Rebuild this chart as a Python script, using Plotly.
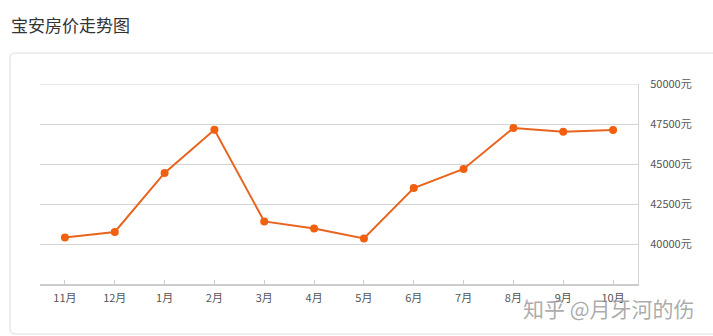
import plotly.graph_objects as go

months = ["11月", "12月", "1月", "2月", "3月", "4月", "5月", "6月", "7月", "8月", "9月", "10月"]
prices = [40400, 40750, 44440, 47140, 41410, 40970, 40350, 43500, 44690, 47250, 47020, 47120]
y_ticks = [40000, 42500, 45000, 47500, 50000]
y_tick_text = [f"{v}元" for v in y_ticks]

W, H = 713, 336
FONT = "Noto Sans CJK SC, Noto Sans, sans-serif"

def px(x):
    return x / W

def py(y):
    return 1 - y / H

fig = go.Figure()
fig.add_trace(go.Scatter(
    x=months, y=prices, mode="lines+markers",
    line=dict(color="#E8641E", width=2),
    marker=dict(color="#F0600F", size=8),
    hoverinfo="x+y", showlegend=False,
))

# card outline with rounded corners (pixel coords -> paper)
r = 5
x0, y0, x1, y1 = 10, 53, 720, 334
path = (f"M {px(x0 + r)},{py(y0)} L {px(x1)},{py(y0)} "
        f"M {px(x1)},{py(y1)} L {px(x0 + r)},{py(y1)} "
        f"Q {px(x0)},{py(y1)} {px(x0)},{py(y1 - r)} "
        f"L {px(x0)},{py(y0 + r)} Q {px(x0)},{py(y0)} {px(x0 + r)},{py(y0)}")

shapes = [
    dict(type="path", path=path, xref="paper", yref="paper",
         line=dict(color="#DDDDDD", width=1), layer="below"),
    # top gridline (plotly hides gridlines on the plot edge)
    dict(type="line", xref="x domain", yref="y", x0=0, x1=1,
         y0=y_ticks[-1], y1=y_ticks[-1],
         line=dict(color="#CFCFCF", width=1.2), layer="below"),
]

fig.update_layout(
    width=W, height=H, autosize=False,
    margin=dict(l=0, r=0, t=0, b=0, autoexpand=False),
    paper_bgcolor="white", plot_bgcolor="white",
    font=dict(family=FONT, size=11, color="#555"),
    shapes=shapes,
    annotations=[
        dict(text="宝安房价走势图", x=px(9), y=py(25), xref="paper", yref="paper",
             xanchor="left", yanchor="middle", showarrow=False,
             font=dict(family=FONT, size=17, color="#333")),
        dict(text="知乎 @月牙河的伤", x=px(697), y=py(308), xref="paper", yref="paper",
             xanchor="right", yanchor="middle", showarrow=False,
             font=dict(family=FONT, size=21, color="rgba(150,150,150,0.8)")),
    ],
    xaxis=dict(
        domain=[px(40), px(638)], range=[-0.5, 11.5],
        type="category", showgrid=False, automargin=False,
        showline=True, linecolor="#CCCCCC", linewidth=2,
        ticks="inside", ticklen=4, tickcolor="#CCCCCC",
        ticklabelstandoff=3,
        tickfont=dict(family=FONT, size=11, color="#555"),
        fixedrange=True,
    ),
    yaxis=dict(
        domain=[py(284), py(84)], range=[37500, 50000],
        side="right", tickvals=y_ticks, ticktext=y_tick_text,
        showgrid=True, gridcolor="#D5D5D5", gridwidth=1, automargin=False,
        showline=True, linecolor="#D5D5D5", linewidth=1,
        ticks="", ticklabelstandoff=9, zeroline=False,
        tickfont=dict(family=FONT, size=11, color="#555"),
        fixedrange=True,
    ),
)

fig.write_html("out.html")
